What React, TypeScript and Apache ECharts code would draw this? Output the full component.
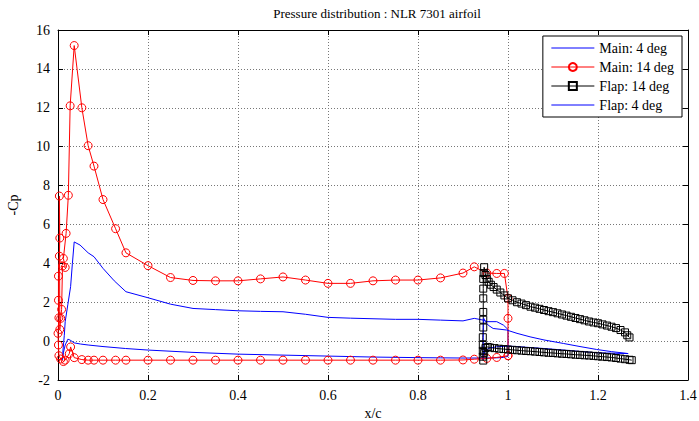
import React, { useEffect, useRef } from "react";
import * as echarts from "echarts";

const titleText = "Pressure distribution : NLR 7301 airfoil";
const xTicks = [0, 0.2, 0.4, 0.6, 0.8, 1, 1.2, 1.4];
const yTicks = [-2, 0, 2, 4, 6, 8, 10, 12, 14, 16];
const seriesNames = ["Main: 4 deg", "Main: 14 deg", "Flap: 14 deg", "Flap: 4 deg"];

// Main element, 4 deg (lower TE -> LE -> upper TE)
const main4: [number, number][] = [
  [1.0, -0.78], [0.99, -0.84], [0.975, -0.86], [0.95, -0.87], [0.9, -0.87], [0.85, -0.86],
  [0.8, -0.85], [0.7, -0.82], [0.6, -0.77], [0.5, -0.72], [0.4, -0.67], [0.3, -0.58],
  [0.2, -0.46], [0.15, -0.38], [0.1, -0.28], [0.067, -0.2], [0.05, -0.15], [0.036, -0.09],
  [0.027, 0.05], [0.022, 0.1], [0.016, -0.2], [0.012, -0.6], [0.01, -0.95], [0.011, -0.5],
  [0.014, 0.3], [0.016, 1.0], [0.022, 1.9], [0.028, 2.8], [0.032, 4.0], [0.036, 5.1],
  [0.049, 4.94], [0.067, 4.54], [0.08, 4.34], [0.1, 3.74], [0.125, 3.1], [0.151, 2.54],
  [0.2, 2.23], [0.25, 1.9], [0.3, 1.68], [0.35, 1.62], [0.4, 1.56], [0.45, 1.53],
  [0.5, 1.51], [0.55, 1.38], [0.6, 1.22], [0.65, 1.18], [0.7, 1.15], [0.75, 1.12],
  [0.8, 1.12], [0.85, 1.08], [0.9, 1.04], [0.925, 1.17], [0.945, 1.08], [0.953, 1.0],
  [0.975, 1.0], [0.99, 0.82], [1.0, 0.6], [1.0, -0.78],
];

// Main element, 14 deg
const main14: [number, number][] = [
  [1.0, -0.75], [0.975, -0.84], [0.953, -0.89], [0.925, -0.93], [0.9, -0.97], [0.85, -0.98],
  [0.8, -0.98], [0.75, -0.98], [0.7, -0.98], [0.65, -0.98], [0.6, -0.98], [0.55, -0.98],
  [0.5, -0.98], [0.45, -0.98], [0.4, -0.98], [0.35, -0.98], [0.3, -0.98], [0.25, -0.98],
  [0.2, -0.98], [0.151, -0.98], [0.128, -0.98], [0.1, -0.98], [0.08, -0.98], [0.067, -0.98],
  [0.053, -0.95], [0.036, -0.85], [0.028, -0.3], [0.025, -0.65], [0.016, -0.98], [0.012, -1.05],
  [0.006, -0.92], [0.002, -0.75], [0.001, -0.2], [0.0, 0.4], [0.002, 1.2], [0.001, 2.1],
  [0.001, 3.34], [0.003, 4.37], [0.004, 5.3], [0.003, 7.46], [0.004, 0.6], [0.006, 1.17],
  [0.008, 1.63], [0.01, 3.86], [0.016, 3.79], [0.012, 4.25], [0.018, 5.54], [0.023, 7.5],
  [0.027, 12.1], [0.036, 15.2], [0.053, 12.0], [0.067, 10.05], [0.08, 9.0], [0.1, 7.28],
  [0.128, 5.78], [0.151, 4.54], [0.2, 3.88], [0.25, 3.27], [0.3, 3.12], [0.35, 3.1],
  [0.4, 3.1], [0.45, 3.2], [0.5, 3.3], [0.55, 3.14], [0.6, 2.97], [0.65, 2.97],
  [0.7, 3.1], [0.75, 3.14], [0.8, 3.14], [0.85, 3.25], [0.9, 3.5], [0.925, 3.82],
  [0.953, 3.5], [0.975, 3.48], [0.992, 3.48], [1.0, 2.2], [1.0, 1.17], [1.0, -0.75],
];

// Flap, 14 deg (lower TE -> LE -> upper TE)
const flap14: [number, number][] = [
  [1.275, -0.98], [1.27, -0.96], [1.26, -0.93], [1.25, -0.9], [1.24, -0.87], [1.23, -0.84],
  [1.22, -0.82], [1.21, -0.8], [1.2, -0.78], [1.19, -0.76], [1.18, -0.74], [1.17, -0.73],
  [1.16, -0.71], [1.15, -0.7], [1.14, -0.68], [1.13, -0.66], [1.12, -0.65], [1.11, -0.63],
  [1.1, -0.61], [1.09, -0.6], [1.08, -0.58], [1.07, -0.56], [1.06, -0.54], [1.05, -0.52],
  [1.04, -0.51], [1.03, -0.49], [1.02, -0.47], [1.01, -0.45], [1.0, -0.43], [0.99, -0.41],
  [0.98, -0.39], [0.97, -0.36], [0.96, -0.33], [0.955, -0.3], [0.95, -0.35], [0.947, -0.6],
  [0.945, -1.0], [0.944, -0.8], [0.944, -0.5], [0.944, -0.2], [0.944, 0.2], [0.945, 0.7],
  [0.945, 1.1], [0.945, 1.5], [0.945, 2.2], [0.945, 2.7], [0.945, 3.2], [0.946, 3.5],
  [0.947, 3.8], [0.95, 3.4], [0.953, 3.2], [0.957, 3.05], [0.962, 2.9], [0.968, 2.78],
  [0.975, 2.65], [0.983, 2.5], [0.992, 2.35], [1.0, 2.2], [1.01, 2.1], [1.02, 2.0],
  [1.03, 1.93], [1.04, 1.85], [1.05, 1.77], [1.06, 1.72], [1.07, 1.66], [1.08, 1.6],
  [1.09, 1.54], [1.1, 1.49], [1.11, 1.43], [1.12, 1.37], [1.13, 1.31], [1.14, 1.25],
  [1.15, 1.19], [1.16, 1.13], [1.17, 1.07], [1.18, 1.01], [1.19, 0.96], [1.2, 0.92],
  [1.21, 0.86], [1.22, 0.8], [1.23, 0.74], [1.24, 0.67], [1.25, 0.57], [1.26, 0.45],
  [1.265, 0.3], [1.27, 0.19],
];

// Flap, 4 deg
const flap4: [number, number][] = [
  [1.267, -0.64], [1.23, -0.62], [1.197, -0.6], [1.16, -0.53], [1.123, -0.46], [1.08, -0.38],
  [1.049, -0.33], [1.02, -0.28], [1.0, -0.26], [0.975, -0.29], [0.96, -0.35], [0.95, -0.46],
  [0.946, -0.7], [0.945, -0.98], [0.945, -0.5], [0.945, 0.2], [0.945, 0.8], [0.946, 1.17],
  [0.95, 1.0], [0.956, 0.82], [0.967, 0.65], [0.997, 0.57], [1.02, 0.4], [1.049, 0.22],
  [1.08, 0.06], [1.123, -0.12], [1.16, -0.28], [1.197, -0.43], [1.23, -0.54], [1.267, -0.64],
];

const FONT = "Liberation Serif";

export default function App() {
  const ref = useRef<HTMLDivElement>(null);
  useEffect(() => {
    if (!ref.current) return;
    const chart = echarts.init(ref.current, undefined, { renderer: "svg" });
    const axisCommon = {
      type: "value" as const,
      axisLine: { show: true, onZero: false, lineStyle: { color: "#000", width: 1 } },
      axisTick: { show: true, inside: true, length: 5, lineStyle: { color: "#000" } },
    };
    const gridLine = { show: true, lineStyle: { color: "#777", type: [1, 2], width: 1 } };
    chart.setOption({
      animation: false,
      backgroundColor: "#fff",
      title: {
        text: titleText,
        left: 372,
        textAlign: "center",
        top: 2,
        textStyle: { fontFamily: FONT, fontSize: 13, fontWeight: "normal", color: "#000" },
      },
      legend: {
        data: seriesNames,
        orient: "vertical",
        right: 17,
        top: 36,
        itemWidth: 43,
        itemHeight: 10,
        itemGap: 5,
        padding: [5, 8, 5, 8],
        backgroundColor: "#fff",
        borderColor: "#000",
        borderWidth: 1,
        borderRadius: 0,
        lineStyle: { width: 1 },
        textStyle: { fontFamily: FONT, fontSize: 14, color: "#000" },
      },
      grid: { left: 58, right: 11, top: 30, bottom: 41, containLabel: false, outerBoundsMode: "none" },
      xAxis: [
        {
          ...axisCommon,
          min: 0,
          max: 1.4,
          interval: 0.2,
          name: "x/c",
          nameLocation: "middle",
          nameGap: 24,
          nameTextStyle: { fontFamily: FONT, fontSize: 14, color: "#000" },
          axisLabel: {
            fontFamily: FONT, fontSize: 14, color: "#000", margin: 8,
            formatter: (v: number) => {
              const t = xTicks.find((x) => Math.abs(x - v) < 1e-6);
              return t === undefined ? "" : String(t);
            },
          },
          splitLine: gridLine,
        },
        {
          ...axisCommon,
          position: "top",
          min: 0,
          max: 1.4,
          interval: 0.2,
          axisLabel: { show: false },
          splitLine: { show: false },
        },
      ],
      yAxis: [
        {
          ...axisCommon,
          min: -2,
          max: 16,
          interval: 2,
          name: "-Cp",
          nameLocation: "middle",
          nameGap: 38,
          nameTextStyle: { fontFamily: FONT, fontSize: 14, color: "#000" },
          axisLabel: {
            fontFamily: FONT, fontSize: 14, color: "#000", margin: 8,
            formatter: (v: number) => {
              const t = yTicks.find((y) => Math.abs(y - v) < 1e-6);
              return t === undefined ? "" : String(t);
            },
          },
          splitLine: gridLine,
        },
        {
          ...axisCommon,
          position: "right",
          min: -2,
          max: 16,
          interval: 2,
          axisLabel: { show: false },
          splitLine: { show: false },
        },
      ],
      series: [
        {
          name: seriesNames[0],
          type: "line",
          data: main4,
          showSymbol: false,
          symbol: "none",
          lineStyle: { color: "#0000ff", width: 1 },
          itemStyle: { color: "rgba(0,0,0,0)", borderWidth: 0 },
        },
        {
          name: seriesNames[1],
          type: "line",
          data: main14,
          symbol: "circle",
          symbolSize: 8,
          lineStyle: { color: "#ff0000", width: 1 },
          itemStyle: { color: "rgba(0,0,0,0)", borderColor: "#ff0000", borderWidth: 1 },
        },
        {
          name: seriesNames[2],
          type: "line",
          data: flap14,
          symbol: "rect",
          symbolSize: 7,
          lineStyle: { color: "#000", width: 1 },
          itemStyle: { color: "rgba(0,0,0,0)", borderColor: "#000", borderWidth: 1 },
        },
        {
          name: seriesNames[3],
          type: "line",
          data: flap4,
          showSymbol: false,
          symbol: "none",
          lineStyle: { color: "#0000ff", width: 1 },
          itemStyle: { color: "rgba(0,0,0,0)", borderWidth: 0 },
        },
      ],
    });
    return () => chart.dispose();
  }, []);
  return <div ref={ref} style={{ width: 699, height: 421, position: "absolute", left: 0, top: 0 }} />;
}
